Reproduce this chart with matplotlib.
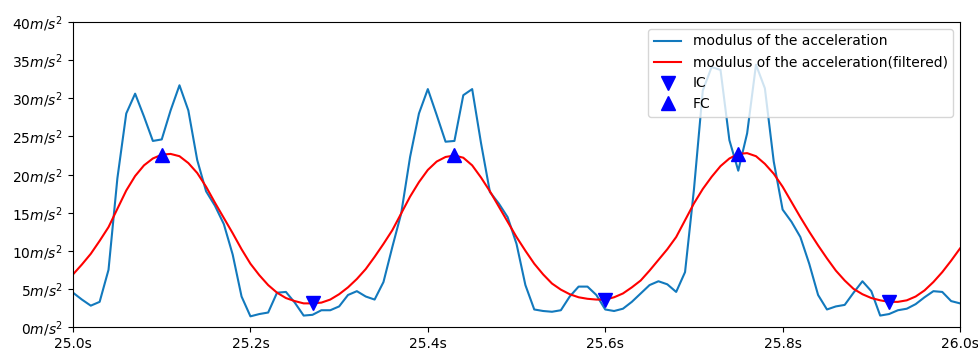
import numpy as np
import matplotlib.pyplot as plt
from matplotlib.ticker import FuncFormatter, MultipleLocator

# both signals sampled every 0.01 s from 25.00 s to 26.00 s
t = np.round(np.arange(25.00, 26.001, 0.01), 2)

acc_raw = [
    4.5, 3.6, 2.8, 3.3, 7.5, 19.5, 28.0, 30.6, 27.6, 24.4,
    24.6, 28.4, 31.7, 28.4, 21.9, 17.8, 15.9, 13.5, 9.5, 4.0,
    1.4, 1.7, 1.9, 4.5, 4.6, 3.2, 1.5, 1.6, 2.2, 2.2,
    2.7, 4.2, 4.7, 4.0, 3.6, 5.9, 10.5, 14.9, 22.3, 28.0,
    31.2, 27.8, 24.3, 24.4, 30.4, 31.2, 24.1, 17.7, 16.2, 14.4,
    10.9, 5.5, 2.3, 2.1, 2.0, 2.2, 4.0, 5.3, 5.3, 4.2,
    2.3, 2.1, 2.4, 3.3, 4.4, 5.5, 6.0, 5.6, 4.6, 7.2,
    18.0, 31.0, 34.1, 33.7, 24.5, 20.5, 25.4, 34.4, 31.3, 21.7,
    15.4, 13.8, 11.8, 8.3, 4.2, 2.3, 2.7, 2.9, 4.5, 6.0,
    4.7, 1.5, 1.7, 2.2, 2.4, 3.0, 3.9, 4.7, 4.6, 3.4,
    3.1,
]

acc_filt = [
    6.9, 8.2, 9.6, 11.3, 13.1, 15.5, 17.9, 19.8, 21.2, 22.1,
    22.6, 22.7, 22.4, 21.5, 20.2, 18.4, 16.3, 14.3, 12.3, 10.2,
    8.3, 6.8, 5.5, 4.5, 3.8, 3.4, 3.1, 3.1, 3.2, 3.6,
    4.3, 5.2, 6.3, 7.6, 9.2, 10.9, 12.7, 14.9, 17.1, 19.0,
    20.6, 21.7, 22.3, 22.5, 22.2, 21.2, 19.6, 17.8, 15.8, 13.8,
    11.8, 10.0, 8.3, 6.9, 5.7, 4.9, 4.3, 3.9, 3.7, 3.6,
    3.6, 3.9, 4.4, 5.2, 6.1, 7.4, 8.8, 10.2, 11.8, 14.0,
    16.2, 18.1, 19.7, 21.1, 22.1, 22.7, 22.8, 22.4, 21.4, 20.1,
    18.4, 16.4, 14.4, 12.5, 10.7, 9.0, 7.4, 6.1, 5.0, 4.3,
    3.8, 3.5, 3.3, 3.3, 3.5, 4.0, 4.8, 5.9, 7.2, 8.7,
    10.3,
]

# gait events
ic_t = [25.27, 25.60, 25.92]
ic_v = [3.1, 3.6, 3.3]
fc_t = [25.10, 25.43, 25.75]
fc_v = [22.6, 22.5, 22.7]


fig, ax = plt.subplots(figsize=(9.79, 3.49), dpi=100)
plt.subplots_adjust(left=0.0746, right=0.9806, top=0.937, bottom=0.063)

ax.plot(t, acc_raw, color='#1279bd', lw=1.5,
        label='modulus of the acceleration')
ax.plot(t, acc_filt, color='red', lw=1.5,
        label='modulus of the acceleration(filtered)')
ax.plot(ic_t, ic_v, 'v', color='blue', markersize=10, ls='none', label='IC')
ax.plot(fc_t, fc_v, '^', color='blue', markersize=10, ls='none', label='FC')

ax.set_xlim(25.0, 26.0)
ax.set_ylim(0, 40)
ax.xaxis.set_major_locator(MultipleLocator(0.2))
ax.yaxis.set_major_locator(MultipleLocator(5))
ax.xaxis.set_major_formatter(FuncFormatter(lambda x, p: f"{x:.1f}s"))
ax.yaxis.set_major_formatter(FuncFormatter(lambda y, p: f"{y:.0f}$m/s^2$"))

ax.legend(loc='upper right')

fig.savefig('out.png', dpi=100)
